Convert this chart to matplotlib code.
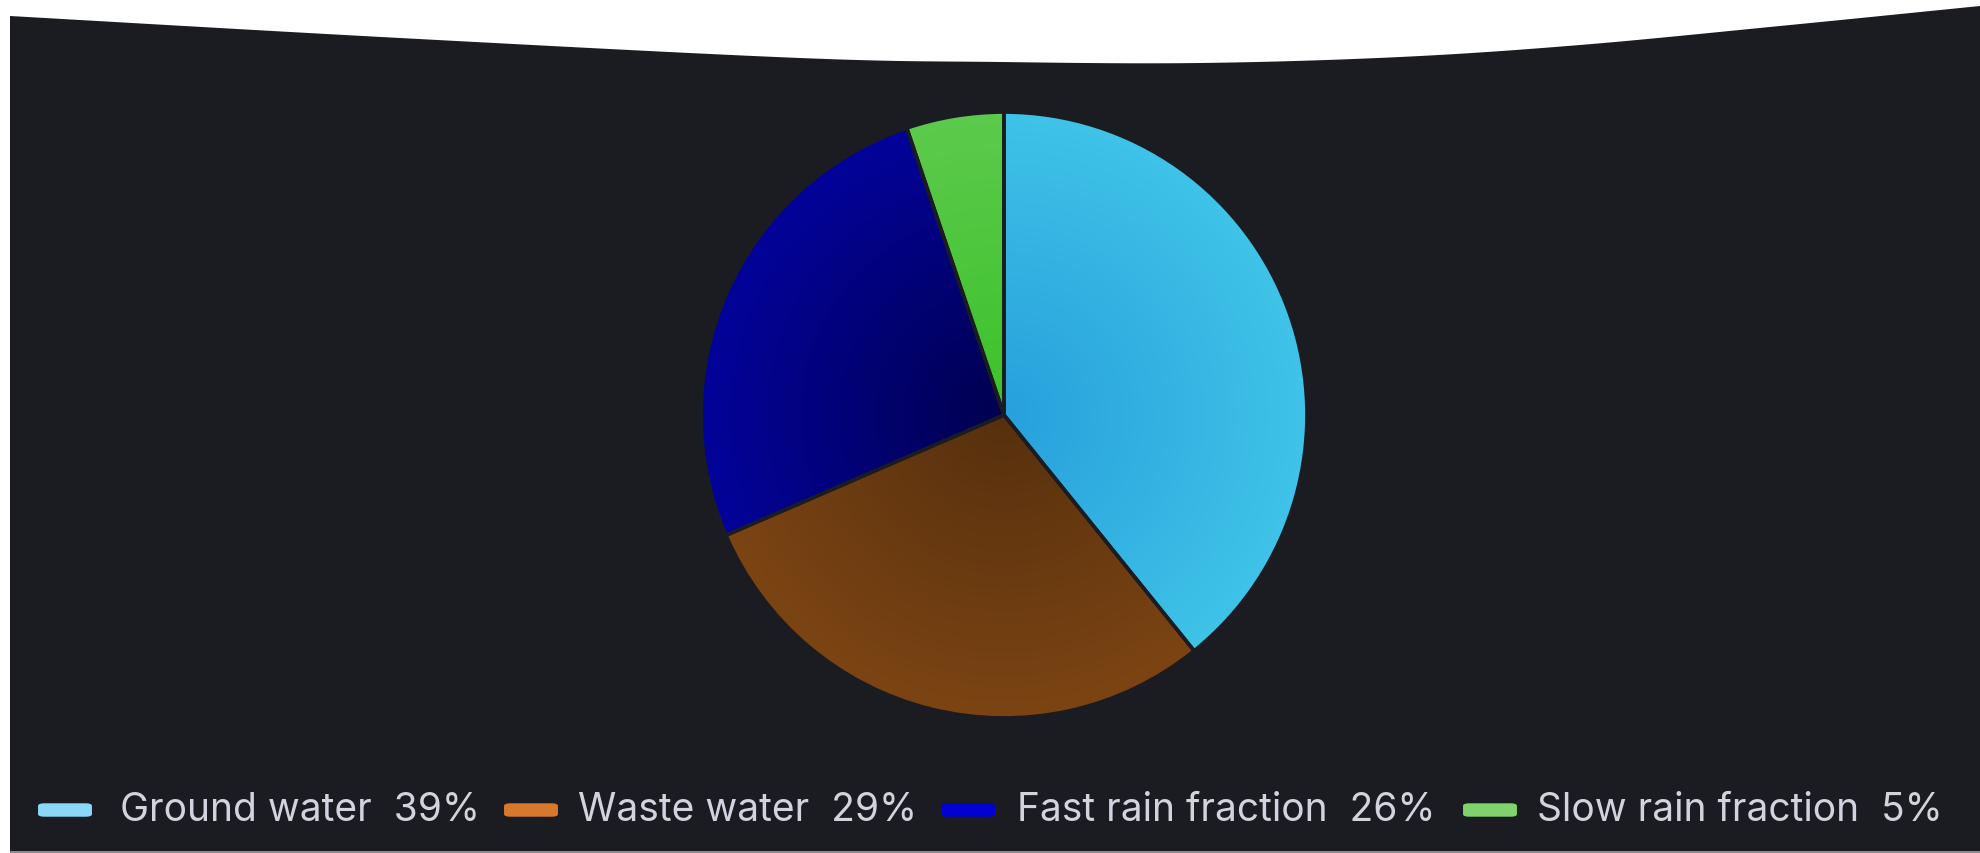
import numpy as np
import matplotlib
matplotlib.use("Agg")
import matplotlib.pyplot as plt
from matplotlib.colors import LinearSegmentedColormap
from matplotlib.patches import Polygon, Rectangle, FancyBboxPatch

labels = ["Ground water", "Waste water", "Fast rain fraction", "Slow rain fraction"]
values = [39.2, 29.3, 26.3, 5.2]
inner_colors = ["#27a0dc", "#56300e", "#00004f", "#3cc22a"]
outer_colors = ["#3fc3e8", "#7c4413", "#03039a", "#5cca4c"]
legend_colors = ["#8ad8f8", "#d7782c", "#0000d0", "#7fd36a"]

W, H = 1980, 854
BG = "#1a1c22"
TEXT = "#d2d3de"

fig = plt.figure(figsize=(W / 100, H / 100), dpi=100)
fig.patch.set_facecolor("white")

# dark panel
fig.patches.append(Rectangle((10 / W, 2 / H), 1 - 10 / W, 1 - 2 / H,
                             transform=fig.transFigure, facecolor=BG,
                             edgecolor="none", zorder=0))
fig.patches.append(Rectangle((10 / W, 0), 1 - 10 / W, 2 / H,
                             transform=fig.transFigure, facecolor="#8c8c90",
                             edgecolor="none", zorder=0))

# wavy torn top edge (white)
kx = np.array([10, 400, 800, 1000, 1200, 1400, 1580, 1780, 1980], float)
ky = np.array([17, 39, 59, 63, 64, 58, 46, 27, 7], float)
pts = np.column_stack([kx, ky])
pp = np.vstack([pts[0], pts, pts[-1]])
curve = []
for i in range(1, len(pp) - 2):
    p0, p1, p2, p3 = pp[i - 1], pp[i], pp[i + 1], pp[i + 2]
    for t in np.linspace(0, 1, 30, endpoint=False):
        curve.append(0.5 * ((2 * p1) + (-p0 + p2) * t
                            + (2 * p0 - 5 * p1 + 4 * p2 - p3) * t ** 2
                            + (-p0 + 3 * p1 - 3 * p2 + p3) * t ** 3))
curve.append(pts[-1])
curve = np.array(curve)
poly = [(0, H), (0, H - curve[0, 1])] + [(x, H - y) for x, y in curve] + [(W, H)]
poly = [(x / W, y / H) for x, y in poly]
fig.patches.append(Polygon(poly, closed=True, transform=fig.transFigure,
                           facecolor="white", edgecolor="none", zorder=1))

# pie
cx, cy, r = 1004, 416, 309
ax = fig.add_axes([(cx - r) / W, (H - cy - r) / H, 2 * r / W, 2 * r / H])
ax.set_zorder(5)
ax.set_facecolor("none")
wedges, _ = ax.pie(values, startangle=90, counterclock=False, radius=1,
                   colors=outer_colors,
                   wedgeprops=dict(edgecolor=BG, linewidth=2.6))
ax.set_xlim(-1.02, 1.02)
ax.set_ylim(-1.02, 1.02)
ax.set_aspect("equal")
ax.axis("off")

gx, gy = np.meshgrid(np.linspace(-1, 1, 400), np.linspace(-1, 1, 400))
rad = np.sqrt(gx ** 2 + gy ** 2)
for w, c0, c1 in zip(wedges, inner_colors, outer_colors):
    cmap = LinearSegmentedColormap.from_list("g", [c0, c1])
    im = ax.imshow(rad, cmap=cmap, vmin=0, vmax=1, extent=(-1, 1, -1, 1),
                   origin="lower", zorder=1)
    im.set_clip_path(w)
    w.set_facecolor("none")
    w.set_zorder(2)

# legend
total = sum(values)
swatch_x = [42, 508, 945, 1467]
text_x = [120, 578, 1017, 1537]
ly = H - 811
for lab, v, col, sx, tx in zip(labels, values, legend_colors, swatch_x, text_x):
    fig.patches.append(FancyBboxPatch((sx / W, (ly - 5) / H), 46 / W, 10 / H,
                                      boxstyle="round,pad=0.002,rounding_size=0.003",
                                      transform=fig.transFigure, facecolor=col,
                                      edgecolor="none", zorder=3))
    fig.text(tx / W, ly / H, f"{lab}  {v / total * 100:.0f}%", color=TEXT,
             fontsize=28, family="Inter", va="center", ha="left", zorder=4)

fig.savefig("out.png", dpi=100, facecolor=fig.get_facecolor())
